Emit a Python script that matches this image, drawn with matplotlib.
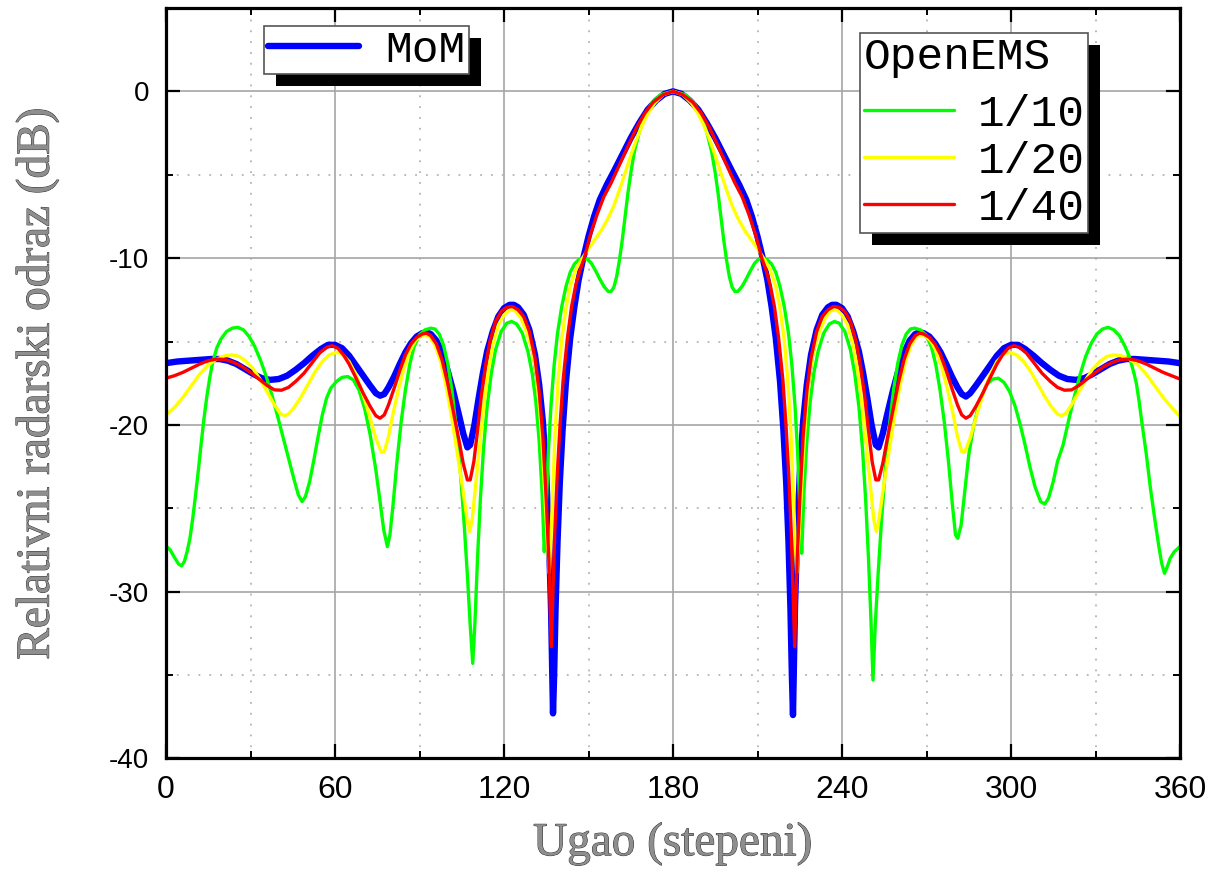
import matplotlib
matplotlib.use("Agg")
import matplotlib.pyplot as plt
from matplotlib.patches import Rectangle
from matplotlib.ticker import MultipleLocator, FixedLocator
from matplotlib.font_manager import FontProperties
import matplotlib.patheffects as pe

plt.rcParams['axes.unicode_minus'] = False

# ---------------- data (angle in degrees, relative RCS in dB) ----------------
mom_deg = [0, 4, 8, 12, 16, 19, 22, 25, 28, 31, 34, 37, 40, 43, 46, 49, 52, 55, 57.5, 60, 62.5,
           65, 67.5, 70, 72.5, 74.5, 76, 77.5, 79, 81, 83, 85, 87, 89, 91, 92.5, 94, 96, 98,
           100, 102, 104, 105.5, 107, 108, 109.5, 111, 112.5, 114, 116, 118, 120, 122, 123.5,
           125, 127, 129, 131, 132.5, 133.8, 135, 136, 136.7, 137.1, 137.4, 137.8, 138.3, 139,
           139.8, 140.8, 142, 143.5, 145, 146.5, 148, 150, 152, 154, 156.5, 159, 162, 165, 168,
           171, 174, 177, 180,
           183, 186, 189, 192, 195, 198, 201, 203.5, 206, 208, 210, 212, 213.5, 215, 216.5,
           218, 219.2, 220.2, 221, 221.7, 222.2, 222.6, 222.9, 223.3, 224, 225, 226.2, 227.5,
           229, 231, 233, 235, 236.5, 238, 240, 242, 244, 246, 247.5, 249, 250.5, 252, 253,
           254.5, 256, 258, 260, 262, 264, 266, 267.5, 269, 271, 273, 275, 277, 279, 281,
           282.5, 284, 285.5, 287.5, 290, 292.5, 295, 297.5, 300, 302.5, 305, 308, 311, 314,
           317, 320, 323, 326, 329, 332, 335, 338, 341, 344, 348, 352, 356, 360]
mom_db = [-16.3, -16.2, -16.15, -16.1, -16.05, -16.05, -16.15, -16.35, -16.65, -16.95, -17.2,
          -17.3, -17.25, -17.05, -16.7, -16.3, -15.85, -15.45, -15.2, -15.2, -15.4, -15.85,
          -16.45, -17.05, -17.65, -18.1, -18.25, -18.15, -17.75, -17.1, -16.35, -15.65, -15.1,
          -14.7, -14.5, -14.45, -14.55, -14.95, -15.7, -16.75, -18.0, -19.4, -20.5, -21.35,
          -21.2, -20.0, -18.4, -16.9, -15.6, -14.4, -13.5, -13.0, -12.8, -12.8, -12.95, -13.4,
          -14.3, -15.8, -17.6, -19.8, -23.0, -27.0, -31.0, -34.5, -37.3, -35.0, -31.0, -27.0,
          -23.5, -20.3, -17.4, -14.8, -12.9, -11.3, -10.1, -8.7, -7.5, -6.5, -5.6, -4.8, -3.8,
          -2.8, -1.9, -1.1, -0.55, -0.15, 0.0,
          -0.15, -0.55, -1.1, -1.9, -2.8, -3.8, -4.8, -5.6, -6.5, -7.5, -8.7, -10.1, -11.3,
          -12.9, -14.8, -17.4, -20.3, -23.5, -27.0, -31.0, -35.0, -37.4, -34.5, -31.0, -27.0,
          -23.0, -19.8, -17.6, -15.8, -14.3, -13.4, -12.95, -12.8, -12.8, -13.0, -13.5, -14.4,
          -15.6, -16.9, -18.4, -20.0, -21.2, -21.35, -20.5, -19.4, -18.0, -16.75, -15.7,
          -14.95, -14.55, -14.45, -14.5, -14.7, -15.1, -15.65, -16.35, -17.1, -17.75, -18.15,
          -18.3, -18.1, -17.65, -17.05, -16.45, -15.85, -15.4, -15.2, -15.2, -15.45, -15.85,
          -16.3, -16.7, -17.05, -17.25, -17.3, -17.2, -16.95, -16.65, -16.35, -16.15, -16.05,
          -16.05, -16.1, -16.15, -16.2, -16.3]

ems10_deg = [0, 1.5, 3, 4.5, 5.5, 6.5, 7.5, 8.5, 9.5, 10.5, 11.5, 12.5, 13.5, 14.5, 15.5, 16.5,
             18, 19.5, 21.5, 23.5, 25.5, 27.5, 29.5, 31.5, 33.5, 35.5, 37.5, 39.5, 41.5, 43.5,
             45.5, 47, 48.3, 49.5, 51, 52.5, 54, 55.5, 57, 58.5, 60.5, 62.5, 64.5, 66.5, 68.5,
             70.5, 72.5, 74.5, 76, 77.3, 78.6, 79.5, 80.6, 82, 83.5, 85, 86.5, 88, 90, 92, 94,
             95.5, 97, 98.5, 100, 101.5, 103, 104.5, 105.8, 107, 108, 108.9, 109.7, 110.6, 111.6,
             112.7, 114, 115.5, 117, 119, 121, 122.7, 124.5, 126.5, 128.5, 130, 131.3, 132.5,
             133.5, 134.3, 134.9, 135.7, 136.7, 137.8, 139, 140.5, 142, 143.5, 145, 146.5, 148,
             149.5, 151, 152.5, 154, 155.5, 157, 158, 159, 160, 161, 162, 163, 164, 165, 166.3,
             168, 170, 172.5, 175.5, 180,
             184.5, 187.5, 190, 192, 193.7, 195, 196, 197, 198, 199, 200, 201, 202, 203, 204.5,
             206, 207.5, 209, 210.5, 212, 213.5, 215, 216.5, 218, 219.5, 221, 222.2, 223.3,
             224.3, 225.1, 225.7, 226.5, 227.5, 228.7, 230, 231.5, 233.5, 235.5, 237.3, 239,
             241, 243, 244.5, 246, 247.3, 248.4, 249.4, 250.3, 251.0, 251.8, 252.8, 254, 255.3,
             256.8, 258.3, 259.8, 261.3, 262.8, 264.3, 265.8, 267.8, 269.8, 271.8, 273.3, 274.8,
             276.3, 277.8, 279.2, 280.3, 281.1, 282.3, 283.6, 285, 286.8, 289, 291.3, 293.5,
             295.5, 297.5, 299.5, 301.5, 303.3, 305, 306.7, 308.5, 310.5, 312, 313.3, 315,
             316.5, 318.5, 320.5, 322.5, 324.5, 326.5, 328.5, 330.5, 332.5, 334.5, 336.5, 338.5,
             340.5, 342, 343.5, 344.5, 345.5, 346.5, 348, 349.5, 351, 352.5, 353.5, 354.5,
             355.5, 356.5, 358, 360]
ems10_db = [-27.25, -27.5, -27.95, -28.35, -28.45, -28.2, -27.6, -26.8, -25.6, -24.2, -22.7,
            -21.1, -19.6, -18.3, -17.2, -16.3, -15.4, -14.85, -14.4, -14.2, -14.15, -14.3, -14.7,
            -15.3, -16.1, -17.05, -18.15, -19.4, -20.7, -22.0, -23.3, -24.2, -24.6, -24.3, -23.4,
            -22.1, -20.7, -19.4, -18.4, -17.8, -17.4, -17.15, -17.1, -17.3, -17.9, -19.0, -20.6,
            -22.7, -24.6, -26.3, -27.3, -26.6, -24.8, -22.2, -19.8, -17.9, -16.4, -15.35, -14.6,
            -14.3, -14.2, -14.25, -14.55, -15.2, -16.3, -17.9, -20.1, -22.8, -25.8, -29.0, -32.0,
            -34.3, -31.8, -28.0, -24.5, -21.5, -18.9, -16.9, -15.5, -14.4, -13.9, -13.8, -13.95,
            -14.5, -15.6, -16.9, -18.6, -21.0, -24.0, -27.6, -25.3, -21.8, -18.8, -16.4, -14.5,
            -12.9, -11.7, -10.85, -10.35, -10.1, -10.02, -10.05, -10.3, -10.75, -11.25, -11.7,
            -12.0, -12.0, -11.75, -11.1, -10.1, -8.9, -7.5, -6.1, -4.9, -3.6, -2.45, -1.45,
            -0.7, -0.2, 0.0,
            -0.2, -0.7, -1.45, -2.45, -3.6, -4.9, -6.1, -7.5, -8.9, -10.1, -11.1, -11.75, -12.0,
            -12.0, -11.7, -11.25, -10.75, -10.3, -10.05, -10.02, -10.1, -10.35, -10.85, -11.7,
            -12.9, -14.5, -16.4, -18.8, -21.8, -25.3, -27.7, -24.0, -21.0, -18.6, -16.9, -15.6,
            -14.5, -13.95, -13.8, -13.9, -14.4, -15.5, -16.9, -18.9, -21.5, -24.5, -28.0, -31.8,
            -35.3, -32.0, -29.0, -25.8, -22.8, -20.1, -17.9, -16.3, -15.2, -14.55, -14.25, -14.2,
            -14.3, -14.6, -15.35, -16.4, -17.9, -19.8, -22.2, -24.8, -26.6, -26.8, -26.0, -24.0,
            -21.8, -20.0, -18.5, -17.6, -17.25, -17.2, -17.45, -18.0, -18.9, -20.0, -21.2,
            -22.5, -23.7, -24.6, -24.75, -24.4, -23.4, -22.2, -21.2, -19.7, -18.3, -17.0, -15.9,
            -15.1, -14.55, -14.25, -14.15, -14.3, -14.65, -15.3, -15.9, -16.8, -17.5, -18.6,
            -19.9, -21.7, -23.8, -25.6, -27.3, -28.3, -28.9, -28.5, -28.0, -27.6, -27.3]

ems20_deg = [0, 3, 6, 9, 12, 15, 18, 21, 23.5, 26, 28.5, 31, 33.5, 36, 38.5, 40.5, 42, 43.5,
             45.5, 48, 50.5, 53, 55.5, 58, 60.5, 62.5, 65, 67.5, 70, 72.5, 74.5, 76.5, 77.5, 79,
             80.5, 82.5, 84.5, 86.5, 88.5, 90.5, 92, 93.5, 95.5, 97.5, 99.5, 101.5, 103.5, 105.5,
             107, 107.8, 108.7, 110, 111.5, 113, 114.5, 116, 118, 120, 122, 124, 126, 128, 130,
             131.5, 132.8, 133.9, 134.9, 135.6, 136.1, 136.6, 137.3, 138.1, 139.2, 140.5, 142,
             143.5, 145.5, 147.5, 149.5, 152, 154.5, 157, 159, 161, 163, 165, 167, 169, 171,
             173.5, 176.5, 180,
             183.5, 186.5, 189, 191, 193, 195, 197, 199, 201, 203, 205.5, 208, 210.5, 212.5,
             214.5, 216.5, 218, 219.5, 220.8, 221.9, 222.7, 223.4, 223.9, 224.4, 225.1, 226.1,
             227.2, 228.5, 230, 232, 234, 236, 238, 240, 242, 244, 245.5, 247, 248.5, 250, 251.3,
             252.2, 253, 254.5, 256.5, 258.5, 260.5, 262.5, 264.5, 266.5, 268, 269.5, 271.5,
             273.5, 275.5, 277.5, 279.5, 281, 282.5, 283.5, 285.5, 287.5, 290, 292.5, 295, 297.5,
             299.5, 302, 304.5, 307, 309.5, 312, 314.5, 316.5, 318, 319.5, 321.5, 324, 326.5,
             329, 331.5, 334, 336.5, 339, 342, 345, 348, 351, 354, 357, 360]
ems20_db = [-19.4, -18.95, -18.35, -17.65, -16.95, -16.4, -16.05, -15.85, -15.8, -15.9, -16.2,
            -16.65, -17.3, -18.05, -18.8, -19.3, -19.45, -19.35, -18.95, -18.3, -17.55, -16.8,
            -16.2, -15.8, -15.65, -15.75, -16.2, -17.0, -18.2, -19.6, -20.8, -21.65, -21.6,
            -20.7, -19.4, -17.9, -16.6, -15.6, -14.95, -14.65, -14.6, -14.7, -15.2, -16.2, -17.7,
            -19.6, -21.8, -24.0, -25.8, -26.4, -25.7, -23.5, -21.0, -18.6, -16.6, -15.2, -14.0,
            -13.4, -13.1, -13.15, -13.6, -14.4, -15.5, -17.0, -19.3, -22.3, -25.5, -27.6, -28.9,
            -27.0, -24.0, -20.6, -17.4, -14.9, -13.0, -11.7, -10.7, -10.1, -9.55, -8.95, -8.35,
            -7.6, -6.85, -5.9, -4.9, -3.85, -2.9, -2.05, -1.35, -0.7, -0.2, 0.0,
            -0.2, -0.7, -1.35, -2.05, -2.9, -3.85, -4.9, -5.9, -6.85, -7.6, -8.35, -8.95, -9.55,
            -10.1, -10.7, -11.7, -13.0, -14.9, -17.4, -20.6, -24.0, -27.0, -28.9, -27.6, -25.5,
            -22.3, -19.3, -17.0, -15.5, -14.4, -13.6, -13.15, -13.1, -13.4, -14.0, -15.2, -16.6,
            -18.6, -21.0, -23.5, -25.7, -26.4, -25.8, -24.0, -21.8, -19.6, -17.7, -16.2, -15.2,
            -14.7, -14.6, -14.65, -14.95, -15.6, -16.6, -17.9, -19.4, -20.7, -21.6, -21.65,
            -20.8, -19.6, -18.2, -17.0, -16.2, -15.75, -15.65, -15.8, -16.2, -16.8, -17.55,
            -18.3, -18.95, -19.35, -19.45, -19.3, -18.8, -18.05, -17.3, -16.65, -16.2, -15.9,
            -15.8, -15.85, -16.05, -16.4, -16.95, -17.65, -18.35, -18.95, -19.5]

ems40_deg = [0, 3, 6, 9, 12, 15, 18, 21, 24, 27, 30, 33, 36, 38.5, 41, 43.5, 46, 49, 52, 54.5,
             57, 59, 61, 63, 65, 67.5, 70, 72.5, 74.5, 76, 77.5, 79, 81, 83, 85, 87, 89, 91,
             92.5, 94, 96, 98, 100, 102, 104, 105.5, 107, 108, 109.3, 110.7, 112, 113.5, 115,
             117, 119, 121, 123, 125, 127, 129, 131, 132.5, 133.8, 135, 135.9, 136.5, 136.8,
             137.3, 138, 138.9, 139.9, 141, 142.5, 144, 145.5, 147, 148.5, 150.5, 153, 155.5,
             158, 161, 164, 167, 170, 173, 176.5, 180,
             183.5, 187, 190, 193, 196, 199, 202, 204.5, 207, 209.5, 211.5, 213, 214.5, 216,
             217.5, 219, 220.1, 221.1, 222, 222.7, 223.2, 223.5, 224.1, 225, 226.2, 227.5, 229,
             231, 233, 235, 237, 239, 241, 243, 245, 246.5, 248, 249.3, 250.7, 252, 253, 254.5,
             256, 258, 260, 262, 264, 266, 267.5, 269, 271, 273, 275, 277, 279, 281, 282.5, 284,
             285.5, 287.5, 290, 292.5, 295, 297, 299, 301, 303, 305.5, 308, 311, 314, 316.5,
             319, 321.5, 324, 327, 330, 333, 336, 339, 342, 345, 348, 351, 354, 357, 360]
ems40_db = [-17.2, -17.05, -16.85, -16.6, -16.35, -16.15, -16.05, -16.08, -16.25, -16.5, -16.85,
            -17.25, -17.65, -17.9, -17.92, -17.75, -17.4, -16.9, -16.25, -15.7, -15.35, -15.25,
            -15.4, -15.8, -16.35, -17.2, -18.1, -18.9, -19.45, -19.6, -19.4, -18.8, -17.8,
            -16.75, -15.8, -15.15, -14.75, -14.55, -14.5, -14.65, -15.15, -16.1, -17.5, -19.2,
            -20.9, -22.3, -23.3, -23.3, -22.2, -20.2, -18.2, -16.4, -15.0, -13.8, -13.2, -12.95,
            -12.9, -13.1, -13.5, -14.4, -16.0, -18.0, -20.7, -24.5, -28.0, -31.5, -33.3, -30.5,
            -26.5, -23.0, -20.0, -17.3, -14.8, -12.9, -11.6, -10.7, -10.0, -8.7, -7.4, -6.3,
            -5.5, -4.4, -3.3, -2.2, -1.3, -0.65, -0.2, 0.0,
            -0.2, -0.65, -1.3, -2.2, -3.3, -4.4, -5.5, -6.3, -7.4, -8.7, -10.0, -10.7, -11.6,
            -12.9, -14.8, -17.3, -20.0, -23.0, -26.5, -30.5, -33.3, -31.5, -28.0, -24.5, -20.7,
            -18.0, -16.0, -14.4, -13.5, -13.1, -12.9, -12.95, -13.2, -13.8, -15.0, -16.4, -18.2,
            -20.2, -22.2, -23.3, -23.3, -22.3, -20.9, -19.2, -17.5, -16.1, -15.15, -14.65, -14.5,
            -14.55, -14.75, -15.15, -15.8, -16.75, -17.8, -18.8, -19.4, -19.6, -19.45, -18.9,
            -18.1, -17.2, -16.35, -15.8, -15.4, -15.25, -15.35, -15.7, -16.25, -16.9, -17.4,
            -17.75, -17.92, -17.9, -17.65, -17.25, -16.85, -16.5, -16.25, -16.08, -16.05, -16.15,
            -16.35, -16.6, -16.85, -17.05, -17.25]

x_ticks = [0, 60, 120, 180, 240, 300, 360]
y_ticks = [0, -10, -20, -30, -40]
legend_mom = "MoM"
legend_title = "OpenEMS"
legend_ems = ["1/10", "1/20", "1/40"]

# ---------------- figure ----------------
fig = plt.figure(figsize=(12.17, 8.75), dpi=100)
ax = fig.add_axes([166 / 1217, 1 - 758.4 / 875, 1014 / 1217, 750.4 / 875])

kw = dict(solid_joinstyle='round', solid_capstyle='round')
l_mom, = ax.plot(mom_deg, mom_db, color='#0000ff', lw=4.6, zorder=2, **kw)
l10, = ax.plot(ems10_deg, ems10_db, color='#00ff00', lw=2.4, zorder=2.1, **kw)
l20, = ax.plot(ems20_deg, ems20_db, color='#ffff00', lw=2.4, zorder=2.2, **kw)
l40, = ax.plot(ems40_deg, ems40_db, color='#ff0000', lw=2.4, zorder=2.3, **kw)

ax.set_xlim(0, 360)
ax.set_ylim(-40, 5)
ax.xaxis.set_major_locator(FixedLocator(x_ticks))
ax.yaxis.set_major_locator(FixedLocator(y_ticks))
ax.xaxis.set_minor_locator(MultipleLocator(30))
ax.yaxis.set_minor_locator(MultipleLocator(5))

ax.grid(True, which='major', color='#a6a6a6', lw=1.2, ls='-', zorder=0)
ax.grid(True, which='minor', color='#b4b4b4', lw=1.3, ls=(0, (1, 5)), zorder=0)
ax.set_axisbelow(True)

for s in ax.spines.values():
    s.set_linewidth(2.3)
    s.set_color('black')

ax.tick_params(which='both', direction='in', top=True, right=True, colors='black')
ax.tick_params(which='major', length=10, width=1.6)
ax.tick_params(which='minor', length=5, width=1.4)
ax.tick_params(axis='x', which='major', pad=12, labelsize=23,
               labelfontfamily='Liberation Sans')
ax.tick_params(axis='y', which='major', pad=12, labelsize=20,
               labelfontfamily='Liberation Sans')

label_fx = [pe.withStroke(linewidth=0.7, foreground='#303030')]
ax.set_xlabel("Ugao (stepeni)", fontsize=34, family='Liberation Serif', color='#8e8e8e',
              path_effects=label_fx, va='center')
ax.xaxis.set_label_coords(0.5, -0.114)
ax.set_ylabel("Relativni radarski odraz (dB)", fontsize=34, family='Liberation Serif',
              color='#8e8e8e', path_effects=label_fx, va='center')
ax.yaxis.set_label_coords(-0.127, 0.5)

mono = FontProperties(family='Liberation Mono', size=32)
leg1 = ax.legend([l_mom], [legend_mom], loc='upper left',
                 bbox_to_anchor=((264 - 166) / 1014, (758.4 - 26) / 750.4),
                 borderaxespad=0, prop=mono, handlelength=2.05, handletextpad=0.6,
                 borderpad=0.08, fancybox=False, framealpha=1, edgecolor='#555555')
leg1.get_frame().set_linewidth(1.2)
ax.add_artist(leg1)

leg2 = ax.legend([l10, l20, l40], legend_ems, title=legend_title, title_fontproperties=mono,
                 loc='upper left', alignment='left',
                 bbox_to_anchor=((860 - 166) / 1014, (758.4 - 33) / 750.4),
                 borderaxespad=0, prop=mono, handlelength=2.03, handletextpad=0.54,
                 borderpad=0.08, labelspacing=0.14, fancybox=False, framealpha=1,
                 edgecolor='#555555')
leg2.get_frame().set_linewidth(1.2)
# extra gap between the legend title and its entries
leg2._legend_box.sep = 0.14 * 32 + 7.0

# black drop shadows behind the legend boxes
fig.canvas.draw()
renderer = fig.canvas.get_renderer()
W, H = fig.get_size_inches() * fig.dpi
for lg in (leg1, leg2):
    bb = lg.get_frame().get_window_extent(renderer)
    sh = Rectangle(((bb.x0 + 12) / W, (bb.y0 - 12) / H), bb.width / W, bb.height / H,
                   transform=fig.transFigure, facecolor='black', edgecolor='none',
                   zorder=4.5, clip_on=False)
    ax.add_patch(sh)

fig.savefig('out.png', dpi=100)
